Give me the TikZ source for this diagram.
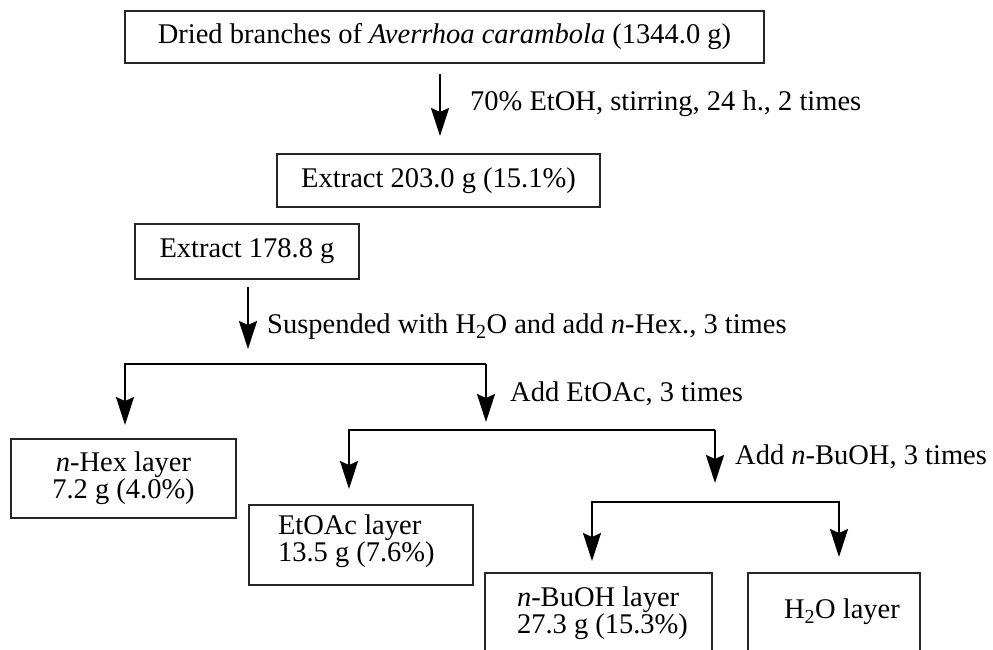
\documentclass[tikz,border=0pt]{standalone}
\usepackage{fontspec}
\setmainfont{Liberation Serif}
\usetikzlibrary{arrows.meta}
\begin{document}
\begin{tikzpicture}[x=1pt,y=-1pt,
  box/.style={draw=black!85, line width=2pt, inner sep=0pt, outer sep=0pt, align=center},
  txt/.style={inner sep=0pt, outer sep=0pt},
  lbl/.style={anchor=west, inner sep=0pt},
  tip/.style={-{Stealth[length=28pt,width=18pt,inset=4pt]}},
  arr/.style={draw=black, line width=2.8pt, tip},
  sarr/.style={draw=black, line width=2pt, tip},
  ln/.style={draw=black, line width=2pt},
  font=\fontsize{28.5}{27}\selectfont]
\useasboundingbox (0,0) rectangle (993,649);
\clip (0,0) rectangle (993,649);

% boxes
\node[box, minimum width=639pt, minimum height=52pt] (dried) at (444.5,37)
  {Dried branches of \textit{Averrhoa carambola} (1344.0 g)};
\node[box, minimum width=323pt, minimum height=53pt] (ext1) at (438.5,180.5)
  {Extract 203.0 g (15.1\%)};
\node[box, minimum width=224pt, minimum height=55pt] (ext2) at (247,251.5)
  {Extract 178.8 g};
\node[box, minimum width=225pt, minimum height=79pt] (hex) at (123.5,478.5)
  {\textit{n}-Hex layer\\7.2 g (4.0\%)};
\node[box, minimum width=224pt, minimum height=80pt] (etoac) at (361,545) {};
\node[txt, anchor=west, align=left] (etoacT) at (278,541.5)
  {EtOAc layer\\13.5 g (7.6\%)};
\node[box, minimum width=227pt, minimum height=110pt] (buoh) at (598.5,628) {};
\node[txt, anchor=west, align=left] (buohT) at (517,613.5)
  {\textit{n}-BuOH layer\\27.3 g (15.3\%)};
\node[box, minimum width=172pt, minimum height=110pt] (h2o) at (834,628) {};
\node[txt] (h2oT) at (842,612) {H\textsubscript{2}O layer};

% labels
\node[lbl] (l1) at (470,104) {70\% EtOH, stirring, 24 h., 2 times};
\node[lbl] (l2) at (267,327) {Suspended with H\textsubscript{2}O and add \textit{n}-Hex., 3 times};
\node[lbl] (l3) at (510,394) {Add EtOAc, 3 times};
\node[lbl] (l4) at (735,457) {Add \textit{n}-BuOH, 3 times};

% junction coordinates
\coordinate (x1) at (440,0);
\coordinate (x2) at (248,0);
\coordinate (s1L) at (125,364);
\coordinate (s1R) at (486,364);
\coordinate (s2L) at (349,430);
\coordinate (s2R) at (715,430);
\coordinate (s3L) at (592,502);
\coordinate (s3R) at (839,502);

% connectors
\draw[arr, shorten <=11pt, shorten >=18pt] (dried.south -| x1) -- (ext1.north -| x1);
\draw[arr, shorten <=8pt, shorten >=15pt] (ext2.south -| x2) -- (s1L -| x2);

\draw[sarr, shorten >=14pt] (s1R) -- (s1L) -- (hex.north -| s1L);
\draw[sarr, shorten >=8pt] (s1R) -- (s2L -| s1R);

\draw[sarr, shorten >=16pt] (s2R) -- (s2L) -- (etoac.north -| s2L);
\draw[arr, shorten >=19pt] (s2R) -- (s3L -| s2R);

\draw[sarr, shorten >=12pt] (s3R) -- (s3L) -- (buoh.north -| s3L);
\draw[sarr, shorten >=16pt] (s3L) -- (s3R) -- (h2o.north -| s3R);
\end{tikzpicture}
\end{document}
